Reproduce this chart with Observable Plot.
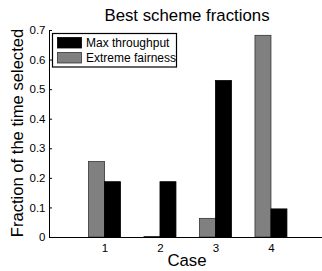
<!DOCTYPE html>
<html>
<head>
<meta charset="utf-8">
<script src="https://cdn.jsdelivr.net/npm/d3@7"></script>
<script src="https://cdn.jsdelivr.net/npm/@observablehq/plot@0.6"></script>
<style>
  html, body { margin: 0; padding: 0; background: #fff; }
  svg { display: block; }
</style>
</head>
<body>
<div id="chart"></div>
<script>
const cases = [1, 2, 3, 4];
const maxThroughput = [0.187, 0.187, 0.529, 0.095];
const extremeFairness = [0.255, 0.002, 0.063, 0.682];
const yTicks = [0, 0.1, 0.2, 0.3, 0.4, 0.5, 0.6, 0.7];
const seriesNames = ["Max throughput", "Extreme fairness"];
const seriesColors = ["#000000", "#808080"];

const barW = 0.288;
const rows = [];
cases.forEach((c, i) => {
  rows.push({case: c, series: seriesNames[1], value: extremeFairness[i], x1: c - barW, x2: c});
  rows.push({case: c, series: seriesNames[0], value: maxThroughput[i], x1: c, x2: c + barW});
});

const font = "'Liberation Sans', Arial, Helvetica, sans-serif";

const chart = Plot.plot({
  width: 322,
  height: 271,
  marginLeft: 49,
  marginRight: 0,
  marginTop: 30,
  marginBottom: 34,
  style: {fontFamily: font, fontSize: "11.5px", color: "#000", background: "#fff"},
  x: {domain: [0, 4.92], label: null},
  y: {domain: [0, 0.7], label: null},
  marks: [
    Plot.rectY(rows, {
      x1: "x1", x2: "x2", y1: 0, y2: "value",
      fill: d => d.series === seriesNames[0] ? seriesColors[0] : seriesColors[1],
      stroke: d => d.series === seriesNames[0] ? "#000" : "#333",
      strokeWidth: 0.8
    }),
    Plot.axisX({ticks: cases, tickFormat: d => String(d), tickSize: -3, tickPadding: 9, stroke: "#000", fill: "#000", fontSize: 11.5}),
    Plot.axisY({ticks: yTicks, tickFormat: d => d === 0 ? "0" : d3.format(".1f")(d), tickSize: -3, tickPadding: 7, stroke: "#000", fill: "#000", fontSize: 11.5}),
    Plot.ruleY([0], {stroke: "#000"}),
    Plot.ruleX([0], {stroke: "#000"})
  ]
});

const svg = d3.select(chart);
svg.append("text")
  .attr("x", 187).attr("y", 20.5)
  .attr("text-anchor", "middle")
  .style("font-family", font).style("font-size", "16.8px").attr("fill", "#000")
  .text("Best scheme fractions");
svg.append("text")
  .attr("x", 187).attr("y", 266)
  .attr("text-anchor", "middle")
  .style("font-family", font).style("font-size", "16.8px").attr("fill", "#000")
  .text("Case");
svg.append("text")
  .attr("transform", "translate(23,133) rotate(-90)")
  .attr("text-anchor", "middle")
  .style("font-family", font).style("font-size", "16.6px").attr("fill", "#000")
  .text("Fraction of the time selected");

// legend
const lg = svg.append("g");
lg.append("rect").attr("x", 52.5).attr("y", 33.5).attr("width", 124).attr("height", 33.5)
  .attr("fill", "#fff").attr("stroke", "#000").attr("stroke-width", 1.2);
seriesNames.forEach((name, i) => {
  const yy = 37.5 + i * 15;
  lg.append("rect").attr("x", 57.5).attr("y", yy).attr("width", 24).attr("height", 10.5)
    .attr("fill", seriesColors[i]).attr("stroke", i === 0 ? "#000" : "#333").attr("stroke-width", 0.8);
  lg.append("text").attr("x", 86).attr("y", yy + 9.5)
    .attr("text-anchor", "start")
    .style("font-family", font).style("font-size", "12px").attr("fill", "#000")
    .text(name);
});

document.getElementById("chart").appendChild(chart);
</script>
</body>
</html>
